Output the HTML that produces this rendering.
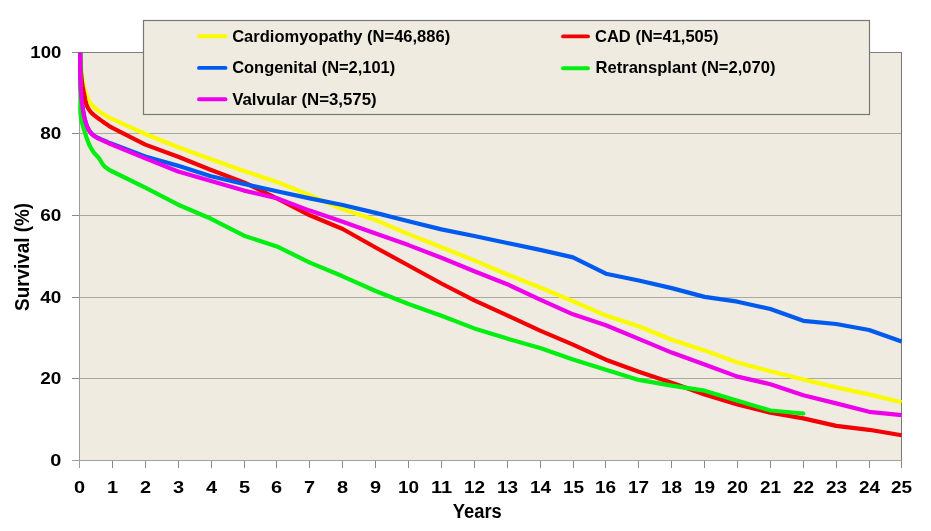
<!DOCTYPE html>
<html><head><meta charset="utf-8"><title>Survival by diagnosis</title>
<style>html,body{margin:0;padding:0;background:#fff;width:931px;height:531px;overflow:hidden}svg{display:block}text{font-family:"Liberation Sans",Arial,sans-serif;font-weight:bold}</style>
</head><body>
<svg width="931" height="531" viewBox="0 0 931 531">
<rect x="0" y="0" width="931" height="531" fill="#fff"/>
<rect x="79" y="52" width="823" height="409" fill="#EFEBE1"/>
<line x1="79" y1="133.5" x2="902" y2="133.5" stroke="#AAA89F" stroke-width="1"/>
<line x1="79" y1="215.5" x2="902" y2="215.5" stroke="#AAA89F" stroke-width="1"/>
<line x1="79" y1="297.5" x2="902" y2="297.5" stroke="#AAA89F" stroke-width="1"/>
<line x1="79" y1="378.5" x2="902" y2="378.5" stroke="#AAA89F" stroke-width="1"/>
<line x1="79" y1="52.5" x2="902" y2="52.5" stroke="#7E7E7A" stroke-width="1"/>
<line x1="901.5" y1="52" x2="901.5" y2="461" stroke="#777" stroke-width="1"/>
<line x1="79.5" y1="52" x2="79.5" y2="468" stroke="#9C9C9C" stroke-width="1"/>
<line x1="72" y1="52.5" x2="79" y2="52.5" stroke="#8A8A8A" stroke-width="1"/>
<line x1="72" y1="133.5" x2="79" y2="133.5" stroke="#8A8A8A" stroke-width="1"/>
<line x1="72" y1="215.5" x2="79" y2="215.5" stroke="#8A8A8A" stroke-width="1"/>
<line x1="72" y1="297.5" x2="79" y2="297.5" stroke="#8A8A8A" stroke-width="1"/>
<line x1="72" y1="378.5" x2="79" y2="378.5" stroke="#8A8A8A" stroke-width="1"/>
<line x1="72" y1="460.5" x2="79" y2="460.5" stroke="#8A8A8A" stroke-width="1"/>
<line x1="72" y1="460.5" x2="902" y2="460.5" stroke="#A2A29C" stroke-width="1"/>
<line x1="112.5" y1="461" x2="112.5" y2="468" stroke="#8A8A8A" stroke-width="1"/>
<line x1="145.5" y1="461" x2="145.5" y2="468" stroke="#8A8A8A" stroke-width="1"/>
<line x1="178.5" y1="461" x2="178.5" y2="468" stroke="#8A8A8A" stroke-width="1"/>
<line x1="211.5" y1="461" x2="211.5" y2="468" stroke="#8A8A8A" stroke-width="1"/>
<line x1="244.5" y1="461" x2="244.5" y2="468" stroke="#8A8A8A" stroke-width="1"/>
<line x1="276.5" y1="461" x2="276.5" y2="468" stroke="#8A8A8A" stroke-width="1"/>
<line x1="309.5" y1="461" x2="309.5" y2="468" stroke="#8A8A8A" stroke-width="1"/>
<line x1="342.5" y1="461" x2="342.5" y2="468" stroke="#8A8A8A" stroke-width="1"/>
<line x1="375.5" y1="461" x2="375.5" y2="468" stroke="#8A8A8A" stroke-width="1"/>
<line x1="408.5" y1="461" x2="408.5" y2="468" stroke="#8A8A8A" stroke-width="1"/>
<line x1="441.5" y1="461" x2="441.5" y2="468" stroke="#8A8A8A" stroke-width="1"/>
<line x1="474.5" y1="461" x2="474.5" y2="468" stroke="#8A8A8A" stroke-width="1"/>
<line x1="507.5" y1="461" x2="507.5" y2="468" stroke="#8A8A8A" stroke-width="1"/>
<line x1="540.5" y1="461" x2="540.5" y2="468" stroke="#8A8A8A" stroke-width="1"/>
<line x1="573.5" y1="461" x2="573.5" y2="468" stroke="#8A8A8A" stroke-width="1"/>
<line x1="605.5" y1="461" x2="605.5" y2="468" stroke="#8A8A8A" stroke-width="1"/>
<line x1="638.5" y1="461" x2="638.5" y2="468" stroke="#8A8A8A" stroke-width="1"/>
<line x1="671.5" y1="461" x2="671.5" y2="468" stroke="#8A8A8A" stroke-width="1"/>
<line x1="704.5" y1="461" x2="704.5" y2="468" stroke="#8A8A8A" stroke-width="1"/>
<line x1="737.5" y1="461" x2="737.5" y2="468" stroke="#8A8A8A" stroke-width="1"/>
<line x1="770.5" y1="461" x2="770.5" y2="468" stroke="#8A8A8A" stroke-width="1"/>
<line x1="803.5" y1="461" x2="803.5" y2="468" stroke="#8A8A8A" stroke-width="1"/>
<line x1="836.5" y1="461" x2="836.5" y2="468" stroke="#8A8A8A" stroke-width="1"/>
<line x1="869.5" y1="461" x2="869.5" y2="468" stroke="#8A8A8A" stroke-width="1"/>
<line x1="901.5" y1="461" x2="901.5" y2="468" stroke="#8A8A8A" stroke-width="1"/>
<g fill="none" stroke-width="4.20" stroke-linejoin="round" stroke-linecap="round">
<path d="M80.2,52.5 L80.3,54.7 L80.4,57.9 L80.6,61.5 L80.8,65.0 L81.1,68.3 L81.5,71.7 L82.0,74.9 L82.4,78.0 L82.8,80.8 L83.3,83.4 L83.8,85.8 L84.3,88.0 L84.8,90.0 L85.3,91.8 L85.9,93.5 L86.4,95.0 L86.9,96.4 L87.5,97.7 L88.0,98.9 L88.6,100.0 L89.2,101.1 L89.7,102.1 L90.4,103.0 L91.1,104.0 L92.0,105.0 L92.9,106.0 L94.0,107.0 L95.0,108.0 L96.1,108.9 L97.2,109.9 L98.3,110.7 L99.4,111.6 L100.6,112.4 L101.8,113.2 L102.9,114.0 L104.1,114.7 L105.2,115.4 L106.3,116.0 L107.4,116.5 L108.5,117.1 L108.8,117.3 L108.7,117.4 L109.4,117.8 L112.4,119.2 L145.3,134.0 L178.2,147.2 L211.1,159.3 L244.0,171.0 L276.9,181.9 L309.8,195.3 L342.7,209.2 L375.6,220.1 L408.5,234.1 L441.4,247.2 L474.3,260.4 L507.2,274.5 L540.1,287.5 L573.0,301.3 L605.9,315.6 L638.8,326.3 L671.7,339.8 L704.6,350.4 L737.5,362.5 L770.4,371.3 L803.3,379.5 L836.2,387.4 L869.1,394.4 L901.6,402.3" stroke="#FAFA00" stroke-linecap="butt"/>
<path d="M80.2,52.5 L80.3,55.8 L80.4,60.5 L80.6,65.6 L80.8,70.0 L81.1,73.5 L81.4,76.6 L81.7,79.4 L82.0,82.0 L82.3,84.3 L82.6,86.4 L83.0,88.2 L83.3,90.0 L83.6,91.6 L83.9,93.0 L84.2,94.4 L84.5,96.0 L84.9,98.0 L85.3,100.1 L85.8,102.4 L86.4,104.4 L87.1,106.3 L88.0,108.0 L89.0,109.7 L90.0,111.2 L91.2,112.5 L92.4,113.7 L93.7,114.8 L95.0,115.8 L96.3,116.8 L97.6,117.8 L98.8,118.7 L100.0,119.6 L101.1,120.4 L102.1,121.1 L103.0,121.8 L104.0,122.5 L105.0,123.2 L106.0,123.8 L107.0,124.5 L108.0,125.1 L108.4,125.4 L108.4,125.6 L109.3,126.1 L112.4,127.8 L145.3,144.6 L178.2,156.8 L211.1,170.0 L244.0,182.4 L276.9,198.3 L309.8,215.3 L342.7,229.0 L375.6,247.5 L408.5,265.5 L441.4,283.5 L474.3,300.4 L507.2,315.3 L540.1,330.6 L573.0,344.6 L605.9,359.7 L638.8,371.8 L671.7,382.8 L704.6,394.4 L737.5,404.4 L770.4,412.8 L803.3,418.4 L836.2,425.9 L869.1,429.8 L901.6,435.3" stroke="#F20004" stroke-linecap="butt"/>
<path d="M80.2,52.5 L80.2,57.3 L80.2,64.2 L80.2,71.6 L80.3,78.0 L80.5,83.0 L80.7,87.5 L80.9,91.4 L81.2,95.0 L81.5,98.0 L81.7,100.5 L82.0,102.7 L82.3,105.0 L82.6,107.4 L83.0,109.8 L83.4,112.1 L83.8,114.5 L84.3,116.9 L84.9,119.4 L85.5,121.8 L86.2,124.0 L86.9,126.0 L87.7,127.8 L88.6,129.5 L89.5,131.0 L90.5,132.3 L91.5,133.5 L92.7,134.6 L93.8,135.5 L95.0,136.3 L96.2,137.0 L97.4,137.6 L98.8,138.2 L100.2,138.9 L101.8,139.6 L103.3,140.3 L105.0,141.0 L106.2,141.5 L107.0,141.9 L108.7,142.6 L112.4,144.0 L145.3,156.5 L178.2,165.7 L211.1,176.3 L244.0,184.0 L276.9,191.2 L309.8,198.4 L342.7,205.0 L375.6,212.9 L408.5,221.2 L441.4,229.4 L474.3,236.0 L507.2,243.0 L540.1,249.9 L573.0,257.4 L605.9,273.7 L638.8,280.5 L671.7,288.1 L704.6,296.9 L737.5,301.7 L770.4,309.0 L803.3,320.8 L836.2,324.0 L869.1,330.0 L901.6,341.6" stroke="#005AEE" stroke-linecap="butt"/>
<path d="M80.4,52.5 L80.4,61.8 L80.4,75.4 L80.4,89.4 L80.4,100.0 L80.4,105.9 L80.3,109.3 L80.4,111.4 L80.5,113.8 L80.8,116.5 L81.2,118.9 L81.7,121.1 L82.2,123.2 L82.7,125.0 L83.1,126.6 L83.6,128.2 L84.2,130.0 L84.8,132.1 L85.5,134.4 L86.2,136.8 L87.0,139.0 L87.8,141.1 L88.7,143.2 L89.5,145.2 L90.4,147.0 L91.3,148.6 L92.1,150.0 L93.0,151.3 L93.8,152.5 L94.6,153.5 L95.5,154.4 L96.3,155.2 L97.0,156.0 L97.6,156.7 L98.2,157.3 L98.8,158.0 L99.5,159.0 L100.4,160.4 L101.4,162.1 L102.5,163.8 L103.5,165.3 L104.5,166.4 L105.6,167.3 L106.6,168.0 L107.7,168.8 L108.2,169.2 L108.3,169.4 L109.2,169.9 L112.4,171.5 L145.3,187.7 L178.2,204.7 L211.1,218.8 L244.0,235.7 L276.9,246.4 L309.8,262.6 L342.7,276.3 L375.6,291.0 L408.5,304.0 L441.4,315.7 L474.3,328.4 L507.2,338.6 L540.1,347.9 L573.0,359.4 L605.9,369.8 L638.8,379.9 L671.7,385.6 L704.6,390.7 L737.5,400.8 L770.4,410.5 L803.3,413.5" stroke="#00EE10" stroke-linecap="butt"/>
<circle cx="803.3" cy="413.5" r="2.10" fill="#00EE10" stroke="none"/>
<path d="M80.2,52.5 L80.2,57.3 L80.2,64.2 L80.2,71.6 L80.3,78.0 L80.5,83.0 L80.7,87.5 L80.9,91.5 L81.2,95.0 L81.4,97.9 L81.7,100.2 L81.9,102.2 L82.2,104.4 L82.5,106.8 L82.8,109.1 L83.2,111.5 L83.6,113.8 L84.1,116.2 L84.6,118.6 L85.2,121.0 L85.9,123.2 L86.6,125.3 L87.4,127.2 L88.3,129.1 L89.2,130.7 L90.2,132.1 L91.2,133.4 L92.3,134.5 L93.5,135.5 L94.7,136.4 L96.0,137.2 L97.3,137.9 L98.6,138.6 L99.8,139.2 L101.1,139.8 L102.3,140.3 L103.5,140.8 L104.7,141.3 L105.8,141.8 L106.9,142.3 L108.0,142.8 L108.4,143.0 L108.4,143.1 L109.3,143.5 L112.4,144.8 L145.3,158.4 L178.2,171.5 L211.1,181.1 L244.0,190.6 L276.9,198.3 L309.8,210.6 L342.7,221.7 L375.6,233.5 L408.5,245.1 L441.4,257.8 L474.3,271.2 L507.2,284.2 L540.1,299.7 L573.0,314.3 L605.9,325.2 L638.8,338.9 L671.7,352.6 L704.6,364.4 L737.5,376.6 L770.4,384.2 L803.3,395.3 L836.2,403.4 L869.1,411.8 L901.6,415.2" stroke="#EE00EA" stroke-linecap="butt"/>
</g>
<rect x="143.5" y="20.5" width="726" height="94" fill="#EFEBE1" stroke="#777773" stroke-width="1.2"/>
<line x1="199" y1="36.2" x2="225.5" y2="36.2" stroke="#FAFA00" stroke-width="3.9" stroke-linecap="round"/>
<text x="232.2" y="41.6"  font-size="16.4" textLength="218" lengthAdjust="spacingAndGlyphs" fill="#000">Cardiomyopathy (N=46,886)</text>
<line x1="563" y1="36.4" x2="588" y2="36.4" stroke="#F20004" stroke-width="3.9" stroke-linecap="round"/>
<text x="595" y="41.6"  font-size="16.4" textLength="123.5" lengthAdjust="spacingAndGlyphs" fill="#000">CAD (N=41,505)</text>
<line x1="199" y1="67.9" x2="225.5" y2="67.9" stroke="#005AEE" stroke-width="3.9" stroke-linecap="round"/>
<text x="232.2" y="73.2"  font-size="16.4" textLength="163" lengthAdjust="spacingAndGlyphs" fill="#000">Congenital (N=2,101)</text>
<line x1="563" y1="68.3" x2="588" y2="68.3" stroke="#00EE10" stroke-width="3.9" stroke-linecap="round"/>
<text x="595.5" y="73.2"  font-size="16.4" textLength="180" lengthAdjust="spacingAndGlyphs" fill="#000">Retransplant (N=2,070)</text>
<line x1="199" y1="99.2" x2="225.5" y2="99.2" stroke="#EE00EA" stroke-width="3.9" stroke-linecap="round"/>
<text x="232.2" y="104.5"  font-size="16.4" textLength="144.5" lengthAdjust="spacingAndGlyphs" fill="#000">Valvular (N=3,575)</text>
<text x="61.3" y="58.0"  font-size="17.4" text-anchor="end" textLength="31" lengthAdjust="spacingAndGlyphs" fill="#000">100</text>
<text x="61.3" y="139.0"  font-size="17.4" text-anchor="end" textLength="21.1" lengthAdjust="spacingAndGlyphs" fill="#000">80</text>
<text x="61.3" y="221.0"  font-size="17.4" text-anchor="end" textLength="21.1" lengthAdjust="spacingAndGlyphs" fill="#000">60</text>
<text x="61.3" y="303.0"  font-size="17.4" text-anchor="end" textLength="21.1" lengthAdjust="spacingAndGlyphs" fill="#000">40</text>
<text x="61.3" y="384.0"  font-size="17.4" text-anchor="end" textLength="21.1" lengthAdjust="spacingAndGlyphs" fill="#000">20</text>
<text x="61.3" y="466.0"  font-size="17.4" text-anchor="end" textLength="11.1" lengthAdjust="spacingAndGlyphs" fill="#000">0</text>
<text x="79.5" y="492.9"  font-size="17.4" text-anchor="middle" textLength="11.1" lengthAdjust="spacingAndGlyphs" fill="#000">0</text>
<text x="112.5" y="492.9"  font-size="17.4" text-anchor="middle" textLength="11.1" lengthAdjust="spacingAndGlyphs" fill="#000">1</text>
<text x="145.5" y="492.9"  font-size="17.4" text-anchor="middle" textLength="11.1" lengthAdjust="spacingAndGlyphs" fill="#000">2</text>
<text x="178.5" y="492.9"  font-size="17.4" text-anchor="middle" textLength="11.1" lengthAdjust="spacingAndGlyphs" fill="#000">3</text>
<text x="211.5" y="492.9"  font-size="17.4" text-anchor="middle" textLength="11.1" lengthAdjust="spacingAndGlyphs" fill="#000">4</text>
<text x="244.5" y="492.9"  font-size="17.4" text-anchor="middle" textLength="11.1" lengthAdjust="spacingAndGlyphs" fill="#000">5</text>
<text x="276.5" y="492.9"  font-size="17.4" text-anchor="middle" textLength="11.1" lengthAdjust="spacingAndGlyphs" fill="#000">6</text>
<text x="309.5" y="492.9"  font-size="17.4" text-anchor="middle" textLength="11.1" lengthAdjust="spacingAndGlyphs" fill="#000">7</text>
<text x="342.5" y="492.9"  font-size="17.4" text-anchor="middle" textLength="11.1" lengthAdjust="spacingAndGlyphs" fill="#000">8</text>
<text x="375.5" y="492.9"  font-size="17.4" text-anchor="middle" textLength="11.1" lengthAdjust="spacingAndGlyphs" fill="#000">9</text>
<text x="408.5" y="492.9"  font-size="17.4" text-anchor="middle" textLength="21.1" lengthAdjust="spacingAndGlyphs" fill="#000">10</text>
<text x="441.5" y="492.9"  font-size="17.4" text-anchor="middle" textLength="21.1" lengthAdjust="spacingAndGlyphs" fill="#000">11</text>
<text x="474.5" y="492.9"  font-size="17.4" text-anchor="middle" textLength="21.1" lengthAdjust="spacingAndGlyphs" fill="#000">12</text>
<text x="507.5" y="492.9"  font-size="17.4" text-anchor="middle" textLength="21.1" lengthAdjust="spacingAndGlyphs" fill="#000">13</text>
<text x="540.5" y="492.9"  font-size="17.4" text-anchor="middle" textLength="21.1" lengthAdjust="spacingAndGlyphs" fill="#000">14</text>
<text x="573.5" y="492.9"  font-size="17.4" text-anchor="middle" textLength="21.1" lengthAdjust="spacingAndGlyphs" fill="#000">15</text>
<text x="605.5" y="492.9"  font-size="17.4" text-anchor="middle" textLength="21.1" lengthAdjust="spacingAndGlyphs" fill="#000">16</text>
<text x="638.5" y="492.9"  font-size="17.4" text-anchor="middle" textLength="21.1" lengthAdjust="spacingAndGlyphs" fill="#000">17</text>
<text x="671.5" y="492.9"  font-size="17.4" text-anchor="middle" textLength="21.1" lengthAdjust="spacingAndGlyphs" fill="#000">18</text>
<text x="704.5" y="492.9"  font-size="17.4" text-anchor="middle" textLength="21.1" lengthAdjust="spacingAndGlyphs" fill="#000">19</text>
<text x="737.5" y="492.9"  font-size="17.4" text-anchor="middle" textLength="21.1" lengthAdjust="spacingAndGlyphs" fill="#000">20</text>
<text x="770.5" y="492.9"  font-size="17.4" text-anchor="middle" textLength="21.1" lengthAdjust="spacingAndGlyphs" fill="#000">21</text>
<text x="803.5" y="492.9"  font-size="17.4" text-anchor="middle" textLength="21.1" lengthAdjust="spacingAndGlyphs" fill="#000">22</text>
<text x="836.5" y="492.9"  font-size="17.4" text-anchor="middle" textLength="21.1" lengthAdjust="spacingAndGlyphs" fill="#000">23</text>
<text x="869.5" y="492.9"  font-size="17.4" text-anchor="middle" textLength="21.1" lengthAdjust="spacingAndGlyphs" fill="#000">24</text>
<text x="901.5" y="492.9"  font-size="17.4" text-anchor="middle" textLength="21.1" lengthAdjust="spacingAndGlyphs" fill="#000">25</text>
<text x="452.8" y="517.5"  font-size="19.4" textLength="49" lengthAdjust="spacingAndGlyphs" fill="#000">Years</text>
<text transform="translate(29.3,310.9) rotate(-90)" x="0" y="0"  font-size="19.6" textLength="108" lengthAdjust="spacingAndGlyphs" fill="#000">Survival (%)</text>
</svg>
</body></html>
